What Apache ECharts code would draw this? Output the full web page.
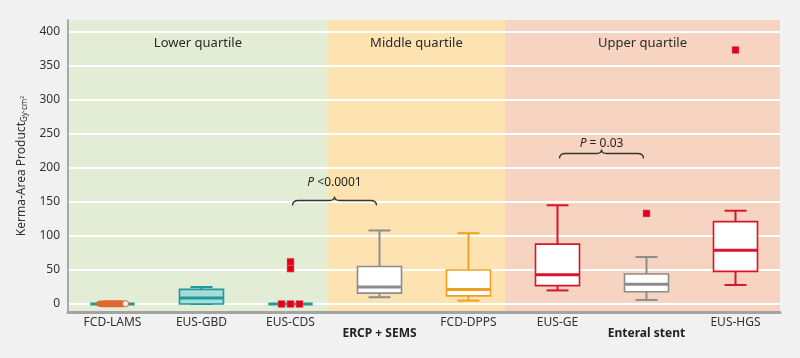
<!DOCTYPE html>
<html>
<head>
<meta charset="utf-8">
<script src="https://cdn.jsdelivr.net/npm/echarts@6/dist/echarts.min.js"></script>
<style>
  html, body { margin: 0; padding: 0; background: #f1f1f1; }
  #chart { width: 800px; height: 358px; }
</style>
</head>
<body>
<div id="chart"></div>
<script>
// categories and box values
const categories = ['FCD-LAMS', 'EUS-GBD', 'EUS-CDS', 'ERCP + SEMS', 'FCD-DPPS', 'EUS-GE', 'Enteral stent', 'EUS-HGS']
const boldCategories = ['ERCP + SEMS', 'Enteral stent']
const lowWhisker = [0, 0, 0, 10, 5, 20, 6, 28]
const lowerQuartile = [0, 0, 0, 16, 12, 27, 18, 48]
const medians = [0, 9, 0, 25, 21.5, 43, 29, 79]
const upperQuartile = [0, 21.5, 0, 55, 50, 88, 44, 121]
const highWhisker = [0, 25, 0, 108, 104, 145, 69, 137]

const outlierCats = [2, 2, 2, 2, 2, 6, 7]
const outlierVals = [0, 0, 0, 52, 62, 133, 373]
const lamsPoint = [0, 0.5]

const yTicks = [0, 50, 100, 150, 200, 250, 300, 350, 400]

const regionNames = ['Lower quartile', 'Middle quartile', 'Upper quartile']
const regionBounds = [0, 2.92, 4.91, 8]

const braceFrom = [2, 5]
const braceTo = [3, 6]
const braceVals = [152, 221]
const braceTextVals = [178, 236]
const braceTexts = ['{i|P} <0.0001', '{i|P} = 0.03']

// styles
const font = '"Noto Sans", "Open Sans", sans-serif'
const boxStroke = ['#1b9c9a', '#1b9c9a', '#1b9c9a', '#8c8c8c', '#f0a01e', '#d9142b', '#8c8c8c', '#d9142b']
const boxFill = ['#fff', '#a8dcd9', '#fff', '#fff', '#fff', '#fff', '#fff', '#fff']
const regionColors = ['#e3edd6', '#fde3b1', '#f6d4c1']
const jitter = [-9, 0, 9, 0, 0, 0, 0]

const boxData = categories.map((c, i) => [i, lowWhisker[i], lowerQuartile[i], medians[i], upperQuartile[i], highWhisker[i]])

const chart = echarts.init(document.getElementById('chart'))

const option = {
  backgroundColor: '#f1f1f1',
  animation: false,
  textStyle: { fontFamily: font },
  grid: { left: 68, right: 20, top: 20, bottom: 46 },
  xAxis: [
    {
      type: 'category',
      data: categories,
      boundaryGap: true,
      axisTick: { show: false },
      axisLine: { onZero: false, lineStyle: { color: '#a3a3a3', width: 3 } },
      axisLabel: {
        interval: 0,
        margin: 5,
        color: '#333',
        fontSize: 12,
        fontFamily: font,
        formatter: v => boldCategories.includes(v) ? '{b|' + v + '}' : v,
        rich: { b: { fontWeight: 'bold', fontSize: 12, color: '#222', padding: [11, 0, 0, 0], fontFamily: font } }
      },
      z: 6
    },
    { type: 'value', min: 0, max: 8, show: false }
  ],
  yAxis: {
    type: 'value',
    min: -11.7,
    max: 417,
    axisLine: { show: true, onZero: false, lineStyle: { color: '#a9a9a9', width: 2 } },
    axisTick: { show: false },
    splitLine: { show: false },
    axisLabel: { customValues: yTicks, color: '#333', fontSize: 12, margin: 8, fontFamily: font },
    name: '{a|Kerma-Area Product}{s|Gy·cm²}',
    nameLocation: 'middle',
    nameGap: 38,
    nameTextStyle: {
      rich: {
        a: { fontSize: 12, color: '#333', lineHeight: 14, fontFamily: font },
        s: { fontSize: 8, color: '#333', verticalAlign: 'bottom', lineHeight: 8, padding: [7, 0, 0, 0], fontFamily: font }
      }
    },
    z: 6
  },
  series: [
    {
      // background regions and white grid lines
      type: 'scatter',
      xAxisIndex: 1,
      data: [],
      silent: true,
      markArea: {
        silent: true,
        z: 0,
        label: { show: true, position: 'insideTop', distance: 17, color: '#2a2a2a', fontSize: 13, fontFamily: font },
        data: regionNames.map((n, i) => [
          { name: n, xAxis: regionBounds[i], itemStyle: { color: regionColors[i] } },
          { xAxis: regionBounds[i + 1] }
        ])
      },
      markLine: {
        silent: true,
        z: 1,
        symbol: 'none',
        label: { show: false },
        lineStyle: { color: '#ffffff', width: 2, type: 'solid' },
        data: yTicks.map(v => ({ yAxis: v }))
      }
    },
    {
      type: 'custom',
      z: 3,
      data: boxData,
      encode: { x: 0, y: [1, 2, 3, 4, 5] },
      renderItem: (params, api) => {
        const i = api.value(0)
        const stroke = boxStroke[i]
        const lo = api.coord([i, api.value(1)])
        const q1 = api.coord([i, api.value(2)])
        const md = api.coord([i, api.value(3)])
        const q3 = api.coord([i, api.value(4)])
        const hi = api.coord([i, api.value(5)])
        const cx = lo[0]
        const half = 22, cap = 11
        const line = (x1, y1, x2, y2, w) => ({
          type: 'line', shape: { x1, y1, x2, y2 }, style: { stroke, lineWidth: w }
        })
        return {
          type: 'group',
          children: [
            line(cx, q3[1], cx, hi[1], 2),
            line(cx, q1[1], cx, lo[1], 2),
            line(cx - cap, hi[1], cx + cap, hi[1], 2),
            line(cx - cap, lo[1], cx + cap, lo[1], 2),
            {
              type: 'rect',
              shape: { x: cx - half, y: q3[1], width: half * 2, height: q1[1] - q3[1] },
              style: { fill: boxFill[i], stroke, lineWidth: 1.6 }
            },
            line(cx - half, md[1], cx + half, md[1], 3)
          ]
        }
      }
    },
    {
      // FCD-LAMS pill
      type: 'scatter',
      z: 4,
      silent: true,
      data: [lamsPoint],
      symbol: 'roundRect',
      symbolSize: [32, 7],
      itemStyle: { color: '#e0652f', opacity: 1 }
    },
    {
      type: 'scatter',
      z: 5,
      silent: true,
      data: [lamsPoint],
      symbol: 'circle',
      symbolSize: 6,
      symbolOffset: [13, 0],
      itemStyle: { color: '#ffffff', borderColor: '#e0652f', borderWidth: 1, opacity: 1 }
    },
    {
      type: 'scatter',
      z: 4,
      silent: true,
      symbol: 'rect',
      symbolSize: 7,
      itemStyle: { color: '#e2001a', borderColor: '#f26a78', borderWidth: 0.5, opacity: 1 },
      data: outlierVals.map((v, k) => ({ value: [outlierCats[k], v], symbolOffset: [jitter[k], 0] }))
    },
    {
      type: 'custom',
      z: 5,
      silent: true,
      data: braceVals.map((v, k) => [braceFrom[k], v]),
      renderItem: (params, api) => {
        const k = params.dataIndex
        const a = api.coord([braceFrom[k], braceVals[k]])
        const b = api.coord([braceTo[k], braceVals[k]])
        const t = api.coord([braceFrom[k], braceTextVals[k]])
        const x1 = a[0] + 2, x2 = b[0] - 3, y = a[1]
        const xm = (x1 + x2) / 2
        const d = `M${x1} ${y + 5} Q${x1} ${y} ${x1 + 6} ${y} L${xm - 5} ${y} Q${xm} ${y} ${xm} ${y - 4} Q${xm} ${y} ${xm + 5} ${y} L${x2 - 6} ${y} Q${x2} ${y} ${x2} ${y + 5}`
        return {
          type: 'group',
          children: [
            { type: 'path', shape: { pathData: d }, style: { stroke: '#333', fill: null, lineWidth: 1.3 } },
            {
              type: 'text',
              style: {
                x: xm, y: t[1],
                text: braceTexts[k],
                align: 'center', verticalAlign: 'middle',
                fill: '#222', fontSize: 12, fontFamily: font,
                rich: { i: { fontStyle: 'italic', fontSize: 12, fill: '#222', fontFamily: font } }
              }
            }
          ]
        }
      }
    }
  ]
}

chart.setOption(option)
</script>
</body>
</html>
